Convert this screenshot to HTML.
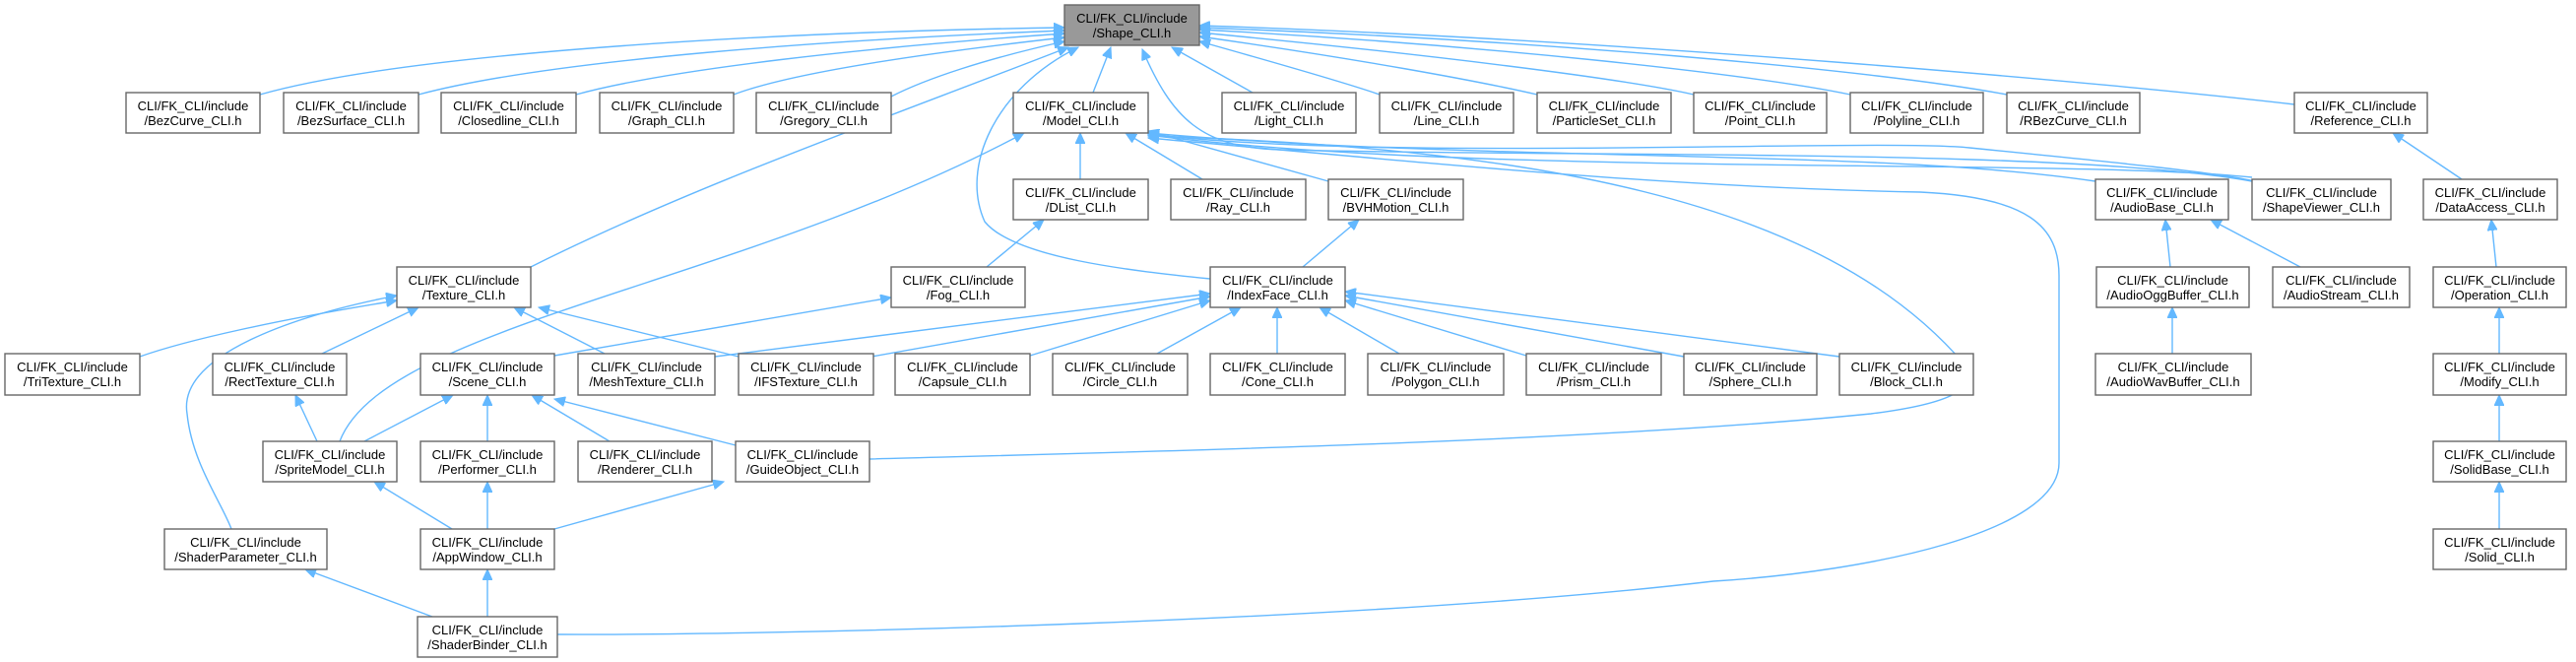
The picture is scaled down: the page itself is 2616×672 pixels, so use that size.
<!DOCTYPE html>
<html><head><meta charset="utf-8"><style>
html,body{margin:0;padding:0;background:#fff;}
svg{display:block;}
text{font-family:"Liberation Sans",Arial,sans-serif;font-size:13px;fill:#000;text-anchor:middle;}
.b{fill:#fff;stroke:#666;stroke-width:1.4;}
.e{fill:none;stroke:#63b8ff;stroke-width:1.4;marker-start:url(#a);}
</style></head><body>
<svg width="2616" height="672" viewBox="0 0 2616 672" xmlns="http://www.w3.org/2000/svg">
<defs><marker id="a" markerWidth="12" markerHeight="10" refX="11" refY="5" orient="auto-start-reverse" markerUnits="userSpaceOnUse"><path d="M0,0 L11,5 L0,10 z" fill="#63b8ff" stroke="#63b8ff"/></marker></defs>
<g>
<path class="e" d="M1081,28 C800,32 420,52 264,96"/>
<path class="e" d="M1081,31 C850,40 560,60 425,96"/>
<path class="e" d="M1081,34 C880,48 680,70 585,96"/>
<path class="e" d="M1081,38 C930,55 800,75 745,96"/>
<path class="e" d="M1081,42 C1000,60 940,80 905,98"/>
<path class="e" d="M1085,48 C900,120 700,190 539,271"/>
<path class="e" d="M1095,48 C1010,90 975,170 1000,225 C1030,262 1150,275 1229,283"/>
<path class="e" d="M1128,48 L1110,94"/>
<path class="e" d="M1190,48 L1272,94"/>
<path class="e" d="M1218,42 C1300,65 1370,85 1401,96"/>
<path class="e" d="M1218,37 C1380,60 1500,82 1561,96"/>
<path class="e" d="M1218,33 C1450,55 1650,80 1720,96"/>
<path class="e" d="M1218,30 C1500,45 1780,75 1879,96"/>
<path class="e" d="M1218,28 C1550,40 1900,70 2038,96"/>
<path class="e" d="M1218,26 C1650,40 2150,85 2330,106"/>
<path class="e" d="M1160,50 C1190,120 1220,150 1300,152 C1600,160 2100,150 2287,184"/>
<path class="e" d="M1097,135 L1097,182"/>
<path class="e" d="M1143,135 L1221,182"/>
<path class="e" d="M1166,133 L1349,184"/>
<path class="e" d="M1040,135 C750,290 390,330 345,448"/>
<path class="e" d="M1166,135 C1500,165 1900,150 2128,184"/>
<path class="e" d="M1166,136 C1400,165 1900,140 2000,150 C2150,165 2250,175 2290,184"/>
<path class="e" d="M1166,137 C1500,180 2100,160 2287,180"/>
<path class="e" d="M1166,138 C1550,150 1850,200 1995,370 C2010,395 1980,410 1900,420 C1600,450 1100,460 883,466"/>
<path class="e" d="M1166,140 C1500,170 1700,190 1950,195 C2060,200 2091,230 2091,280 L2091,470 C2091,540 1900,580 1740,590 C1400,630 800,645 566,644"/>
<path class="e" d="M403,305 C280,325 190,345 142,362"/>
<path class="e" d="M403,300 C300,320 180,360 190,420 C195,470 225,510 235,537"/>
<path class="e" d="M425,312 L327,359"/>
<path class="e" d="M522,312 L614,359"/>
<path class="e" d="M547,312 L750,362"/>
<path class="e" d="M1060,223 L1002,271"/>
<path class="e" d="M905,302 L563,361"/>
<path class="e" d="M1380,223 L1323,271"/>
<path class="e" d="M1229,298 L726,362"/>
<path class="e" d="M1229,301 L885,362"/>
<path class="e" d="M1229,305 L1046,361"/>
<path class="e" d="M1260,312 L1175,359"/>
<path class="e" d="M1297,312 L1297,359"/>
<path class="e" d="M1340,312 L1421,359"/>
<path class="e" d="M1366,305 L1550,361"/>
<path class="e" d="M1366,300 L1710,362"/>
<path class="e" d="M1366,296 L1868,362"/>
<path class="e" d="M460,401 L370,448"/>
<path class="e" d="M495,401 L495,448"/>
<path class="e" d="M540,401 L619,448"/>
<path class="e" d="M563,405 L747,452"/>
<path class="e" d="M300,401 L322,448"/>
<path class="e" d="M380,489 L459,537"/>
<path class="e" d="M495,489 L495,537"/>
<path class="e" d="M735,489 L563,537"/>
<path class="e" d="M310,578 L439,626"/>
<path class="e" d="M495,578 L495,626"/>
<path class="e" d="M2430,135 L2500,182"/>
<path class="e" d="M2530,223 L2535,271"/>
<path class="e" d="M2538,312 L2538,359"/>
<path class="e" d="M2538,401 L2538,448"/>
<path class="e" d="M2538,489 L2538,537"/>
<path class="e" d="M2199,223 L2204,271"/>
<path class="e" d="M2245,223 L2336,271"/>
<path class="e" d="M2206,312 L2206,359"/>
</g>
<g>
<rect x="1081" y="5" width="137" height="41" fill="#999" stroke="#666" stroke-width="1.4"/><text x="1149.5" y="23">CLI/FK_CLI/include</text><text x="1149.5" y="38">/Shape_CLI.h</text>
<rect class="b" x="128" y="94" width="136" height="41"/><text x="196" y="112">CLI/FK_CLI/include</text><text x="196" y="127">/BezCurve_CLI.h</text>
<rect class="b" x="288" y="94" width="137" height="41"/><text x="356.5" y="112">CLI/FK_CLI/include</text><text x="356.5" y="127">/BezSurface_CLI.h</text>
<rect class="b" x="448" y="94" width="137" height="41"/><text x="516.5" y="112">CLI/FK_CLI/include</text><text x="516.5" y="127">/Closedline_CLI.h</text>
<rect class="b" x="609" y="94" width="136" height="41"/><text x="677" y="112">CLI/FK_CLI/include</text><text x="677" y="127">/Graph_CLI.h</text>
<rect class="b" x="768" y="94" width="137" height="41"/><text x="836.5" y="112">CLI/FK_CLI/include</text><text x="836.5" y="127">/Gregory_CLI.h</text>
<rect class="b" x="1029" y="94" width="137" height="41"/><text x="1097.5" y="112">CLI/FK_CLI/include</text><text x="1097.5" y="127">/Model_CLI.h</text>
<rect class="b" x="1241" y="94" width="136" height="41"/><text x="1309" y="112">CLI/FK_CLI/include</text><text x="1309" y="127">/Light_CLI.h</text>
<rect class="b" x="1401" y="94" width="136" height="41"/><text x="1469" y="112">CLI/FK_CLI/include</text><text x="1469" y="127">/Line_CLI.h</text>
<rect class="b" x="1561" y="94" width="136" height="41"/><text x="1629" y="112">CLI/FK_CLI/include</text><text x="1629" y="127">/ParticleSet_CLI.h</text>
<rect class="b" x="1720" y="94" width="135" height="41"/><text x="1787.5" y="112">CLI/FK_CLI/include</text><text x="1787.5" y="127">/Point_CLI.h</text>
<rect class="b" x="1879" y="94" width="135" height="41"/><text x="1946.5" y="112">CLI/FK_CLI/include</text><text x="1946.5" y="127">/Polyline_CLI.h</text>
<rect class="b" x="2038" y="94" width="135" height="41"/><text x="2105.5" y="112">CLI/FK_CLI/include</text><text x="2105.5" y="127">/RBezCurve_CLI.h</text>
<rect class="b" x="2330" y="94" width="135" height="41"/><text x="2397.5" y="112">CLI/FK_CLI/include</text><text x="2397.5" y="127">/Reference_CLI.h</text>
<rect class="b" x="1029" y="182" width="137" height="41"/><text x="1097.5" y="200">CLI/FK_CLI/include</text><text x="1097.5" y="215">/DList_CLI.h</text>
<rect class="b" x="1189" y="182" width="137" height="41"/><text x="1257.5" y="200">CLI/FK_CLI/include</text><text x="1257.5" y="215">/Ray_CLI.h</text>
<rect class="b" x="1349" y="182" width="137" height="41"/><text x="1417.5" y="200">CLI/FK_CLI/include</text><text x="1417.5" y="215">/BVHMotion_CLI.h</text>
<rect class="b" x="2128" y="182" width="135" height="41"/><text x="2195.5" y="200">CLI/FK_CLI/include</text><text x="2195.5" y="215">/AudioBase_CLI.h</text>
<rect class="b" x="2287" y="182" width="141" height="41"/><text x="2357.5" y="200">CLI/FK_CLI/include</text><text x="2357.5" y="215">/ShapeViewer_CLI.h</text>
<rect class="b" x="2461" y="182" width="136" height="41"/><text x="2529" y="200">CLI/FK_CLI/include</text><text x="2529" y="215">/DataAccess_CLI.h</text>
<rect class="b" x="403" y="271" width="136" height="41"/><text x="471" y="289">CLI/FK_CLI/include</text><text x="471" y="304">/Texture_CLI.h</text>
<rect class="b" x="905" y="271" width="136" height="41"/><text x="973" y="289">CLI/FK_CLI/include</text><text x="973" y="304">/Fog_CLI.h</text>
<rect class="b" x="1229" y="271" width="137" height="41"/><text x="1297.5" y="289">CLI/FK_CLI/include</text><text x="1297.5" y="304">/IndexFace_CLI.h</text>
<rect class="b" x="2129" y="271" width="155" height="41"/><text x="2206.5" y="289">CLI/FK_CLI/include</text><text x="2206.5" y="304">/AudioOggBuffer_CLI.h</text>
<rect class="b" x="2308" y="271" width="139" height="41"/><text x="2377.5" y="289">CLI/FK_CLI/include</text><text x="2377.5" y="304">/AudioStream_CLI.h</text>
<rect class="b" x="2471" y="271" width="135" height="41"/><text x="2538.5" y="289">CLI/FK_CLI/include</text><text x="2538.5" y="304">/Operation_CLI.h</text>
<rect class="b" x="5" y="359" width="137" height="42"/><text x="73.5" y="377">CLI/FK_CLI/include</text><text x="73.5" y="392">/TriTexture_CLI.h</text>
<rect class="b" x="216" y="359" width="136" height="42"/><text x="284" y="377">CLI/FK_CLI/include</text><text x="284" y="392">/RectTexture_CLI.h</text>
<rect class="b" x="427" y="359" width="136" height="42"/><text x="495" y="377">CLI/FK_CLI/include</text><text x="495" y="392">/Scene_CLI.h</text>
<rect class="b" x="587" y="359" width="139" height="42"/><text x="656.5" y="377">CLI/FK_CLI/include</text><text x="656.5" y="392">/MeshTexture_CLI.h</text>
<rect class="b" x="750" y="359" width="137" height="42"/><text x="818.5" y="377">CLI/FK_CLI/include</text><text x="818.5" y="392">/IFSTexture_CLI.h</text>
<rect class="b" x="909" y="359" width="137" height="42"/><text x="977.5" y="377">CLI/FK_CLI/include</text><text x="977.5" y="392">/Capsule_CLI.h</text>
<rect class="b" x="1069" y="359" width="137" height="42"/><text x="1137.5" y="377">CLI/FK_CLI/include</text><text x="1137.5" y="392">/Circle_CLI.h</text>
<rect class="b" x="1229" y="359" width="137" height="42"/><text x="1297.5" y="377">CLI/FK_CLI/include</text><text x="1297.5" y="392">/Cone_CLI.h</text>
<rect class="b" x="1389" y="359" width="138" height="42"/><text x="1458" y="377">CLI/FK_CLI/include</text><text x="1458" y="392">/Polygon_CLI.h</text>
<rect class="b" x="1550" y="359" width="137" height="42"/><text x="1618.5" y="377">CLI/FK_CLI/include</text><text x="1618.5" y="392">/Prism_CLI.h</text>
<rect class="b" x="1710" y="359" width="135" height="42"/><text x="1777.5" y="377">CLI/FK_CLI/include</text><text x="1777.5" y="392">/Sphere_CLI.h</text>
<rect class="b" x="1868" y="359" width="136" height="42"/><text x="1936" y="377">CLI/FK_CLI/include</text><text x="1936" y="392">/Block_CLI.h</text>
<rect class="b" x="2128" y="359" width="158" height="42"/><text x="2207" y="377">CLI/FK_CLI/include</text><text x="2207" y="392">/AudioWavBuffer_CLI.h</text>
<rect class="b" x="2471" y="359" width="135" height="42"/><text x="2538.5" y="377">CLI/FK_CLI/include</text><text x="2538.5" y="392">/Modify_CLI.h</text>
<rect class="b" x="267" y="448" width="136" height="41"/><text x="335" y="466">CLI/FK_CLI/include</text><text x="335" y="481">/SpriteModel_CLI.h</text>
<rect class="b" x="427" y="448" width="136" height="41"/><text x="495" y="466">CLI/FK_CLI/include</text><text x="495" y="481">/Performer_CLI.h</text>
<rect class="b" x="587" y="448" width="136" height="41"/><text x="655" y="466">CLI/FK_CLI/include</text><text x="655" y="481">/Renderer_CLI.h</text>
<rect class="b" x="747" y="448" width="136" height="41"/><text x="815" y="466">CLI/FK_CLI/include</text><text x="815" y="481">/GuideObject_CLI.h</text>
<rect class="b" x="2471" y="448" width="135" height="41"/><text x="2538.5" y="466">CLI/FK_CLI/include</text><text x="2538.5" y="481">/SolidBase_CLI.h</text>
<rect class="b" x="167" y="537" width="165" height="41"/><text x="249.5" y="555">CLI/FK_CLI/include</text><text x="249.5" y="570">/ShaderParameter_CLI.h</text>
<rect class="b" x="427" y="537" width="136" height="41"/><text x="495" y="555">CLI/FK_CLI/include</text><text x="495" y="570">/AppWindow_CLI.h</text>
<rect class="b" x="2471" y="537" width="135" height="41"/><text x="2538.5" y="555">CLI/FK_CLI/include</text><text x="2538.5" y="570">/Solid_CLI.h</text>
<rect class="b" x="424" y="626" width="142" height="41"/><text x="495" y="644">CLI/FK_CLI/include</text><text x="495" y="659">/ShaderBinder_CLI.h</text>
</g>
</svg>
</body></html>
